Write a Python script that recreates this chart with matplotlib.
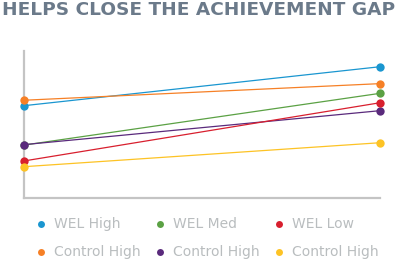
import matplotlib.pyplot as plt
from matplotlib.lines import Line2D

# Data (0-100 relative scale)
series = ["WEL High", "Control High", "WEL Med", "Control High ", "WEL Low", "Control High  "]
colors = ["#1a96d0", "#f68026", "#5ba144", "#5a2a7c", "#d81f2e", "#fdc325"]
start = [62.8, 66.5, 36.0, 36.3, 25.2, 21.3]
end = [89.3, 77.8, 71.2, 59.4, 64.8, 37.6]
x = [0, 1]

fig = plt.figure(figsize=(3.98, 2.60), dpi=100)
ax = fig.add_axes([24 / 398, 1 - 198 / 260, (380 - 24) / 398, (198 - 51) / 260])

for s, e, c in zip(start, end, colors):
    ax.plot(x, [s, e], color=c, linewidth=0.9, marker="o", markersize=6,
            markeredgewidth=0, clip_on=False, zorder=3)

ax.set_xlim(0, 1)
ax.set_ylim(0, 100)
ax.set_xticks([])
ax.set_yticks([])
for side in ["top", "right"]:
    ax.spines[side].set_visible(False)
for side in ["left", "bottom"]:
    ax.spines[side].set_color("#c4c4c4")
    ax.spines[side].set_linewidth(1.6)

fig.text(0.5, 0.962, "HELPS CLOSE THE ACHIEVEMENT GAP", ha="center", va="center",
         fontsize=13.3, fontweight="bold", color="#6b7a8a", family="DejaVu Sans")

# legend laid out as the reference: 3 columns, 2 rows
labels = ["WEL High", "WEL Med", "WEL Low", "Control High", "Control High", "Control High"]
leg_colors = ["#1a96d0", "#5ba144", "#d81f2e", "#f68026", "#5a2a7c", "#fdc325"]
col_x = [41, 160, 279]
row_y = [224, 252]
for i, (lab, c) in enumerate(zip(labels, leg_colors)):
    px = col_x[i % 3]
    py = row_y[i // 3]
    fig.add_artist(Line2D([px / 398], [1 - py / 260], marker="o", markersize=5,
                          color=c, markeredgewidth=0, linestyle="none",
                          transform=fig.transFigure))
    fig.text((px + 13) / 398, 1 - py / 260, lab, ha="left", va="center",
             fontsize=10, color="#b9bdbf")

fig.savefig("out.png", dpi=100)
